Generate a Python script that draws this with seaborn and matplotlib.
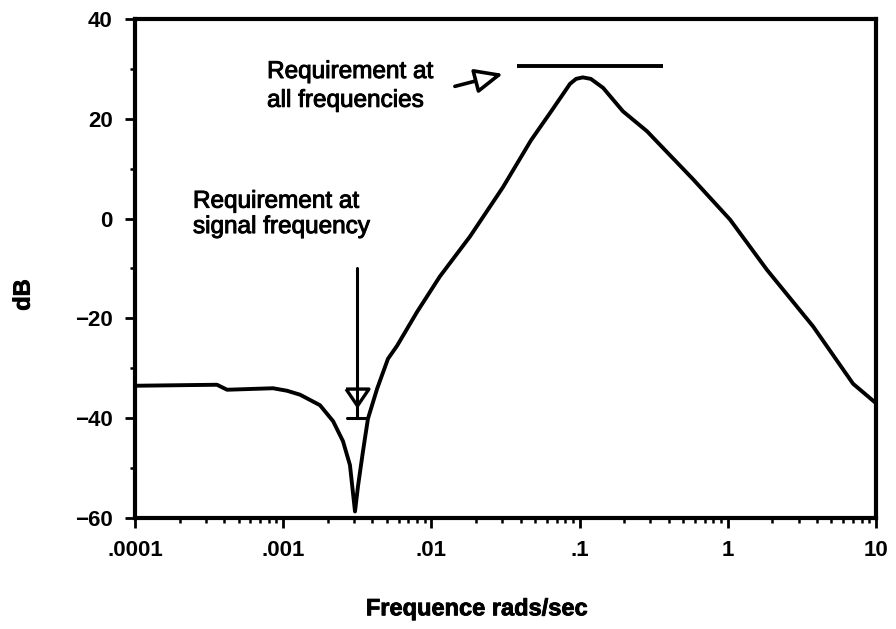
import numpy as np
import pandas as pd
import matplotlib
matplotlib.use("Agg")
import matplotlib.pyplot as plt
import matplotlib.patheffects as pe
from matplotlib.ticker import LogLocator, NullFormatter, MultipleLocator
import seaborn as sns

# Loop gain magnitude response
freq_rad_s = [1.0e-4, 3.57e-4, 4.18e-4, 8.53e-4, 1.06e-3, 1.30e-3, 1.77e-3,
              2.17e-3, 2.53e-3, 2.82e-3, 3.05e-3, 3.20e-3, 3.45e-3, 3.73e-3,
              4.30e-3, 5.09e-3, 5.86e-3, 8.00e-3, 1.14e-2, 1.82e-2, 3.04e-2,
              4.70e-2, 6.50e-2, 8.61e-2, 0.0946, 0.105, 0.119, 0.144, 0.196,
              0.285, 0.333, 0.582, 1.035, 1.84, 3.76, 7.0, 10.0]
gain_db = [-33.5, -33.3, -34.3, -34.0, -34.5, -35.3, -37.4,
           -40.6, -44.6, -49.4, -58.7, -53.5, -46.7, -40.1,
           -34.1, -28.1, -25.5, -18.7, -11.6, -3.6, 6.3,
           15.7, 21.7, 27.0, 28.0, 28.3, 28.0, 26.2, 21.5,
           17.5, 15.4, 7.9, -0.2, -10.3, -21.6, -33.1, -37.0]

# Design requirements
req_all_db = 30.5
req_all_freq = [0.0378, 0.366]
req_signal_db = -40.0
req_signal_freq = 0.00315
req_signal_bar = [0.00269, 0.00367]
signal_arrow_top_db = -10.0
signal_arrow_head_db = -35.7
pointer_tail = (0.0144, 26.5)
pointer_tip = (0.0304, 29.0)

x_ticks = [1e-4, 1e-3, 1e-2, 1e-1, 1, 10]
x_tick_labels = [".0001", ".001", ".01", ".1", "1", "10"]
y_ticks = [-60, -40, -20, 0, 20, 40]

sns.set_theme(style="ticks")
plt.rcParams["font.family"] = ["Liberation Sans", "DejaVu Sans"]

fig = plt.figure(figsize=(8.96, 6.29), dpi=100)
fig.patch.set_facecolor("white")
ax = fig.add_axes([0.1507, 0.1765, 0.827, 0.7933])
ax.set_facecolor("white")
ax.set_xscale("log")

df = pd.DataFrame({"freq": freq_rad_s, "gain": gain_db})
sns.lineplot(data=df, x="freq", y="gain", ax=ax, color="black", lw=2.8,
             sort=False, estimator=None)

# requirement at all frequencies
ax.plot(req_all_freq, [req_all_db, req_all_db], color="black", lw=2.8,
        solid_capstyle="butt")

# requirement at the signal frequency
ax.plot([req_signal_freq, req_signal_freq], [signal_arrow_top_db, req_signal_db],
        color="black", lw=2.2)
ax.plot(req_signal_bar, [req_signal_db, req_signal_db], color="black", lw=2.2)
ax.plot([req_signal_freq], [signal_arrow_head_db], linestyle="none",
        marker=[(-0.68, 0.5), (0.68, 0.5), (0.0, -0.5), (-0.68, 0.5)],
        markersize=16.5, mfc="none", mec="black", mew=2.4)

ax.annotate("", xy=pointer_tip, xytext=pointer_tail,
            arrowprops=dict(arrowstyle="-|>,head_length=1.7,head_width=0.75",
                            mutation_scale=10, fc="white", ec="black", lw=2.6,
                            shrinkA=0, shrinkB=0))

heavy = [pe.withStroke(linewidth=0.7, foreground="black")]
ax.text(7.78e-4, 22.4, "Requirement at\nall frequencies", ha="left",
        va="baseline", fontsize=17.5, linespacing=1.4, color="black",
        path_effects=heavy)
ax.text(2.46e-4, -2.9, "Requirement at\nsignal frequency", ha="left",
        va="baseline", fontsize=17.5, linespacing=1.2, color="black",
        path_effects=heavy)

ax.set_xlim(1e-4, 10)
ax.set_ylim(-60, 40)
ax.set_xticks(x_ticks)
ax.set_xticklabels(x_tick_labels)
ax.xaxis.set_minor_locator(LogLocator(base=10, subs=np.arange(2, 10), numticks=20))
ax.xaxis.set_minor_formatter(NullFormatter())
ax.set_yticks(y_ticks)
ax.yaxis.set_minor_locator(MultipleLocator(10))

ax.tick_params(which="major", direction="out", length=7, width=2,
               labelsize=16, pad=9, colors="black", top=False, right=False)
ax.tick_params(which="minor", direction="out", length=3.5, width=1.8,
               colors="black", top=False, right=False)
for lab in ax.get_xticklabels() + ax.get_yticklabels():
    lab.set_fontweight("bold")

for sp in ax.spines.values():
    sp.set_visible(True)
    sp.set_linewidth(3)
    sp.set_color("black")
ax.grid(False)

ax.set_xlabel("Frequence rads/sec", fontsize=17, fontweight="bold",
              va="center", color="black",
              path_effects=[pe.withStroke(linewidth=0.6, foreground="black")])
ax.xaxis.set_label_coords(0.4615, -0.182)
ax.set_ylabel("dB", fontsize=17, fontweight="bold", va="center", color="black",
              path_effects=[pe.withStroke(linewidth=0.6, foreground="black")])
ax.yaxis.set_label_coords(-0.151, 0.447)

fig.savefig("out.png", dpi=100, facecolor="white")
